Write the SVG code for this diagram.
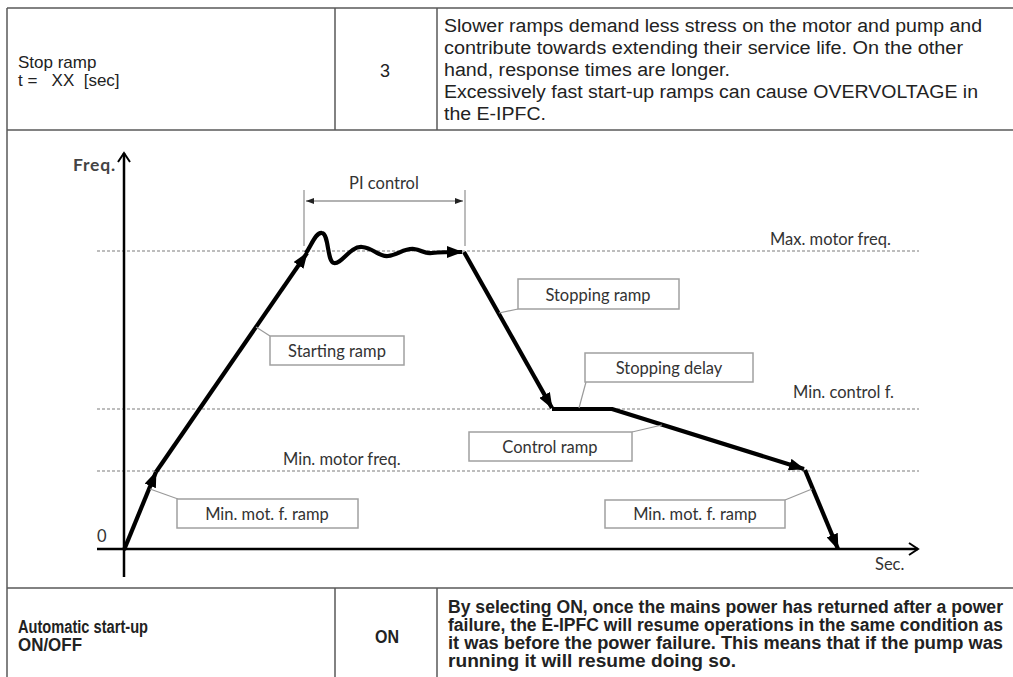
<svg xmlns="http://www.w3.org/2000/svg" width="1013" height="677" viewBox="0 0 1013 677">
<defs>
<style>
.tbl{stroke:#5a5a5a;stroke-width:1.5;fill:none}
.t{font-family:"Liberation Sans",Arial,sans-serif;font-size:18px;fill:#222}
.b{font-family:"Liberation Sans",Arial,sans-serif;font-size:17.5px;font-weight:bold;fill:#222}
.g{font-family:Lato,"Open Sans",sans-serif;font-size:16.5px;fill:#333}
.box{fill:#fff;stroke:#a0a0a0;stroke-width:1.5}
.dot{stroke:#a8a8a8;stroke-width:1.6;stroke-dasharray:3 2;fill:none}
.curve{stroke:#000;stroke-width:4.2;fill:none;stroke-linejoin:round}
.lead{stroke:#9a9a9a;stroke-width:1.2;fill:none}
.axis{stroke:#000;stroke-width:2.5;fill:none}
.tick{stroke:#999;stroke-width:1.3;fill:none}
</style>
<marker id="ah" markerUnits="userSpaceOnUse" markerWidth="16" markerHeight="12" viewBox="0 0 16 12" refX="15" refY="6" orient="auto"><path d="M0,0 L16,6 L0,12 Z" fill="#000"/></marker>
<marker id="sa" markerUnits="userSpaceOnUse" markerWidth="8" markerHeight="6" viewBox="0 0 8 6" refX="8" refY="3" orient="auto-start-reverse"><path d="M0,0 L8,3 L0,6 Z" fill="#222"/></marker>
<marker id="ax" markerUnits="userSpaceOnUse" markerWidth="12" markerHeight="14" viewBox="0 0 12 14" refX="10" refY="7" orient="auto"><path d="M1,1 L10,7 L1,13" fill="none" stroke="#000" stroke-width="2"/></marker>
</defs>

<g id="table">
<path class="tbl" d="M7,8 H1013 M7,8 V677 M7,130 H1013 M7,588 H1013 M335,8 V130 M437,8 V130 M335,588 V677 M437,588 V677"/>
</g>

<g id="row-stop-ramp">
<text class="t" x="18" y="68" style="font-size:17px">Stop ramp</text>
<text class="t" x="18" y="86" style="font-size:17px" xml:space="preserve">t =   XX  [sec]</text>
<text class="t" x="385" y="77" text-anchor="middle">3</text>
<text class="t" x="444" y="32" textLength="538" lengthAdjust="spacingAndGlyphs">Slower ramps demand less stress on the motor and pump and</text>
<text class="t" x="444" y="54" textLength="519" lengthAdjust="spacingAndGlyphs">contribute towards extending their service life. On the other</text>
<text class="t" x="444" y="76" textLength="286" lengthAdjust="spacingAndGlyphs">hand, response times are longer.</text>
<text class="t" x="444" y="98" textLength="534" lengthAdjust="spacingAndGlyphs">Excessively fast start-up ramps can cause OVERVOLTAGE in</text>
<text class="t" x="444" y="120" textLength="102" lengthAdjust="spacingAndGlyphs">the E-IPFC.</text>
</g>

<g id="row-auto-start">
<text class="b" x="18" y="633" textLength="130" lengthAdjust="spacingAndGlyphs">Automatic start-up</text>
<text class="b" x="18" y="651" textLength="64" lengthAdjust="spacingAndGlyphs">ON/OFF</text>
<text class="b" x="387" y="643" text-anchor="middle" textLength="24" lengthAdjust="spacingAndGlyphs">ON</text>
<text class="b" x="448" y="613" textLength="555" lengthAdjust="spacingAndGlyphs">By selecting ON, once the mains power has returned after a power</text>
<text class="b" x="448" y="631" textLength="555" lengthAdjust="spacingAndGlyphs">failure, the E-IPFC will resume operations in the same condition as</text>
<text class="b" x="448" y="649" textLength="555" lengthAdjust="spacingAndGlyphs">it was before the power failure. This means that if the pump was</text>
<text class="b" x="448" y="667" textLength="288" lengthAdjust="spacingAndGlyphs">running it will resume doing so.</text>
</g>

<g id="grid">
<path class="dot" d="M97,251 H919 M97,409 H919 M97,471 H919"/>
</g>

<g id="axes">
<line class="axis" x1="124" y1="577" x2="124" y2="153" marker-end="url(#ax)"/>
<line class="axis" x1="97" y1="549" x2="918" y2="549" marker-end="url(#ax)"/>
<text class="g" x="73" y="171" style="font-size:17.5px;letter-spacing:0.8px;font-weight:bold;fill:#444">Freq.</text>
<text class="g" x="97" y="542">0</text>
<text class="g" x="875" y="570">Sec.</text>
</g>

<g id="level-labels">
<text class="g" x="770" y="245">Max. motor freq.</text>
<text class="g" x="793" y="398">Min. control f.</text>
<text class="g" x="283" y="465">Min. motor freq.</text>
</g>

<g id="pi-control">
<path class="tick" d="M304,190 V246 M465,190 V246"/>
<line class="tick" x1="306" y1="201" x2="463" y2="201" marker-start="url(#sa)" marker-end="url(#sa)"/>
<text class="g" x="384" y="189" text-anchor="middle">PI control</text>
</g>

<g id="connectors">
<path class="curve" d="M124,550 L156,472" marker-end="url(#ah)"/>
<path class="curve" d="M156,472 L307,253" marker-end="url(#ah)"/>
<path class="curve" d="M306,253 C312,244 316,232 322,233 C329,234 327,262 334,263 C342,264 350,246 362,247 C374,248 378,257 388,256 C398,255 404,248 414,249 C422,250 424,254 432,253 C442,252 450,252 462,252" marker-end="url(#ah)"/>
<path class="curve" d="M464,252 L552,408" marker-end="url(#ah)"/>
<path class="curve" d="M552,409 L612,409 L804,469" marker-end="url(#ah)"/>
<path class="curve" d="M805,470 L838,549" marker-end="url(#ah)"/>
<path class="lead" d="M256,327 L270,336"/>
<path class="lead" d="M499,313 L518,309"/>
<path class="lead" d="M586,382 L579,408"/>
<path class="lead" d="M632,432 L662,425"/>
<path class="lead" d="M150,489 L178,499"/>
<path class="lead" d="M785,500 L812,489"/>
</g>

<g id="starting-ramp">
<rect class="box" x="270" y="336" width="134" height="29"/>
<text class="g" x="337" y="357" text-anchor="middle">Starting ramp</text>
</g>
<g id="stopping-ramp">
<rect class="box" x="518" y="279" width="161" height="30"/>
<text class="g" x="598" y="301" text-anchor="middle">Stopping ramp</text>
</g>
<g id="stopping-delay">
<rect class="box" x="585" y="353" width="168" height="29"/>
<text class="g" x="669" y="374" text-anchor="middle">Stopping delay</text>
</g>
<g id="control-ramp">
<rect class="box" x="469" y="432" width="163" height="29"/>
<text class="g" x="550" y="453" text-anchor="middle">Control ramp</text>
</g>
<g id="min-mot-ramp-left">
<rect class="box" x="177" y="499" width="181" height="29"/>
<text class="g" x="267" y="520" text-anchor="middle">Min. mot. f. ramp</text>
</g>
<g id="min-mot-ramp-right">
<rect class="box" x="605" y="500" width="180" height="28"/>
<text class="g" x="695" y="520" text-anchor="middle">Min. mot. f. ramp</text>
</g>
</svg>
